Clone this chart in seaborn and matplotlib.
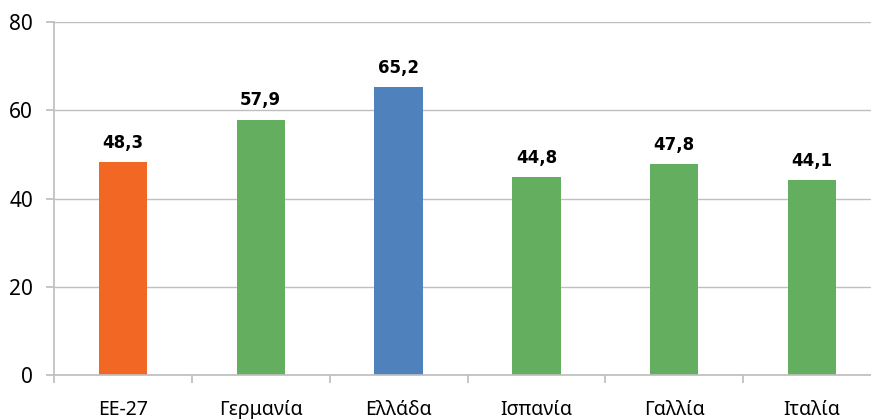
import matplotlib
matplotlib.use("Agg")
import matplotlib.pyplot as plt
import seaborn as sns
import pandas as pd

# Data
categories = ['ΕΕ-27', 'Γερμανία', 'Ελλάδα', 'Ισπανία', 'Γαλλία', 'Ιταλία']
values = [48.3, 57.9, 65.2, 44.8, 47.8, 44.1]
bar_colors = ['#F26724', '#64AE5F', '#4F81BD', '#64AE5F', '#64AE5F', '#64AE5F']

sns.set_theme(style="white")
plt.rcParams['font.family'] = ['Noto Sans', 'DejaVu Sans']

df = pd.DataFrame({'Country': categories, 'Value': values})

fig = plt.figure(figsize=(8.71, 4.19), dpi=100)
ax = fig.add_axes([0.062, 0.105, 0.9495, 0.8425])

sns.barplot(data=df, x='Country', y='Value', hue='Country', palette=bar_colors,
            width=0.35, legend=False, ax=ax, saturation=1, linewidth=0)

# Value labels above bars
for i, v in enumerate(values):
    ax.text(i, v + 3.2, f'{v:.1f}'.replace('.', ','), ha='center', va='baseline',
            fontsize=12, fontweight='bold', color='black', family='DejaVu Sans')

ax.set_ylim(0, 80)
ax.set_yticks([0, 20, 40, 60, 80])
ax.set_xlim(-0.5, len(categories) - 0.5)
ax.set_xlabel('')
ax.set_ylabel('')

# Gridlines
ax.yaxis.grid(True, color='#BFBFBF', linewidth=1)
ax.set_axisbelow(True)

# Spines
for side in ['top', 'right']:
    ax.spines[side].set_visible(False)
ax.spines['left'].set_color('#BFBFBF')
ax.spines['bottom'].set_color('#BFBFBF')

# Category ticks sit between bars
ax.set_xticks([i - 0.5 for i in range(len(categories) + 1)], minor=False)
ax.set_xticklabels([])
ax.set_xticks(range(len(categories)), minor=True)
ax.set_xticklabels(categories, minor=True)
ax.tick_params(axis='x', which='major', length=6, color='#BFBFBF', direction='out', bottom=True)
ax.tick_params(axis='x', which='minor', length=0, pad=29, labelsize=14, colors='black')
for lbl in ax.get_xticklabels(minor=True):
    lbl.set_verticalalignment('baseline')
ax.tick_params(axis='y', length=6, color='#BFBFBF', direction='out', left=True,
               pad=9, labelsize=15, labelcolor='black')

fig.savefig('out.png', dpi=100)
